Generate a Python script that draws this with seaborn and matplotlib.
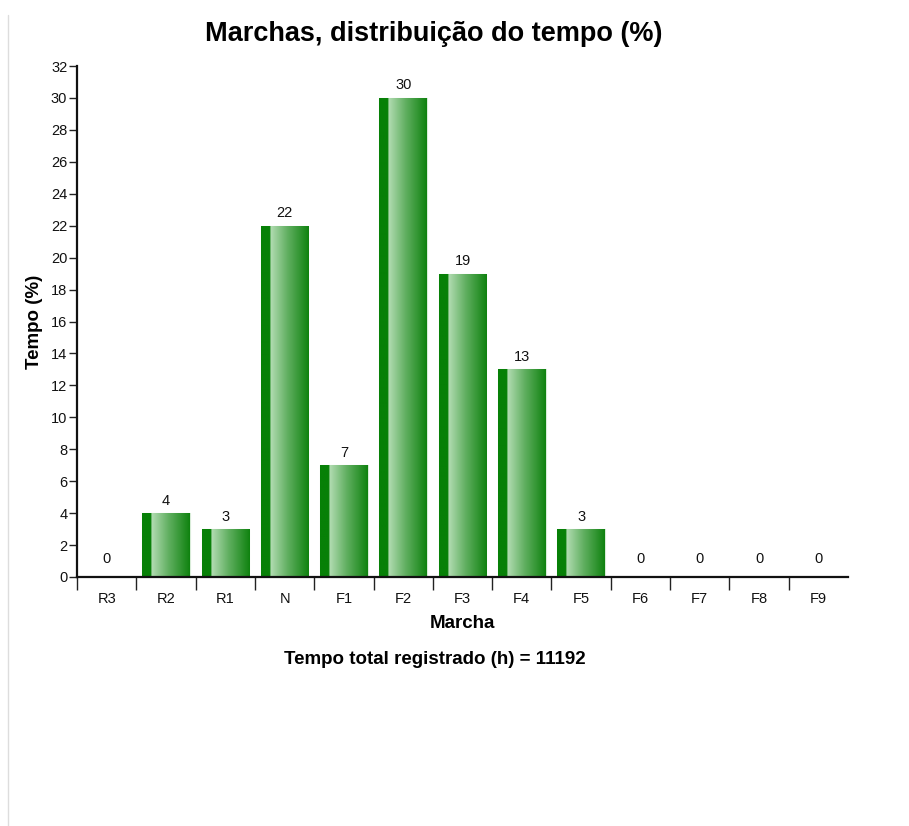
import matplotlib
matplotlib.use('Agg')
import matplotlib.pyplot as plt
import seaborn as sns
import numpy as np
import pandas as pd
from matplotlib.colors import LinearSegmentedColormap
from matplotlib.lines import Line2D

marchas = ['R3', 'R2', 'R1', 'N', 'F1', 'F2', 'F3', 'F4', 'F5', 'F6', 'F7', 'F8', 'F9']
tempo = [0, 4, 3, 22, 7, 30, 19, 13, 3, 0, 0, 0, 0]
tempo_total = 11192

sns.set_style('white')
plt.rcParams['font.family'] = ['Liberation Sans', 'DejaVu Sans']
plt.rcParams['text.color'] = 'black'

df = pd.DataFrame({'Marcha': marchas, 'Tempo': tempo})

fig = plt.figure(figsize=(9.09, 8.26), dpi=100)
ax = fig.add_axes([77 / 909, 249 / 826, 771 / 909, 511 / 826])

sns.barplot(data=df, x='Marcha', y='Tempo', order=marchas, color='#0a820a',
            width=0.8, ax=ax, saturation=1, edgecolor='none')

# gradiente verde nas barras
grad = LinearSegmentedColormap.from_list('g', [
    (0.0, '#078007'), (0.19, '#078007'), (0.2, '#b2dcb2'),
    (0.55, '#62b062'), (1.0, '#0f820f')])
g = np.linspace(0, 1, 256).reshape(1, -1)
for p in ax.patches:
    x0, y0 = p.get_x(), p.get_y()
    w, h = p.get_width(), p.get_height()
    if h <= 0:
        continue
    im = ax.imshow(g, cmap=grad, aspect='auto', extent=[x0, x0 + w, y0, y0 + h],
                   zorder=p.get_zorder() + 0.1, interpolation='bilinear')
    im.set_clip_path(p)
    p.set_edgecolor('#d8ecd8')
    p.set_linewidth(0.8)

for i, v in enumerate(tempo):
    ax.annotate(str(v), (i, v), xytext=(0, 4 if v > 0 else 8), textcoords='offset points',
                ha='center', va='bottom', fontsize=10.5, color='#111111')

ax.set_xlim(-0.5, 12.5)
ax.set_ylim(0, 32)
ax.set_yticks(range(0, 33, 2))
ax.set_xticks(range(len(marchas)))
ax.set_xticklabels(marchas)
ax.set_xticks(np.arange(-0.5, 12.5, 1), minor=True)
ax.tick_params(axis='x', which='major', bottom=False, length=0, pad=11, labelsize=10.5,
               labelcolor='#111111')
ax.tick_params(axis='x', which='minor', bottom=True, length=9, width=1, color='#222222',
               direction='out')
ax.tick_params(axis='y', length=6, width=1, color='#222222', labelsize=10.5,
               labelcolor='#111111', left=True, direction='out', pad=1)

for s in ['top', 'right']:
    ax.spines[s].set_visible(False)
for s in ['left', 'bottom']:
    ax.spines[s].set_color('#111111')
    ax.spines[s].set_linewidth(1.6)

ax.set_xlabel('Marcha', fontsize=13.5, fontweight='bold', labelpad=6, color='black')
ax.set_ylabel('Tempo (%)', fontsize=13.5, fontweight='bold', labelpad=6, color='black')

fig.text(434 / 909, 1 - 34 / 826, 'Marchas, distribuição do tempo (%)', ha='center', va='center',
         fontsize=19.5, fontweight='bold')
fig.text(435 / 909, 1 - 660 / 826, 'Tempo total registrado (h) = ' + str(tempo_total),
         ha='center', va='center', fontsize=13.5, fontweight='bold')

fig.add_artist(Line2D([8 / 909, 8 / 909], [0, 1 - 15 / 826], color='#dddddd', linewidth=1))

fig.savefig('out.png', dpi=100)
